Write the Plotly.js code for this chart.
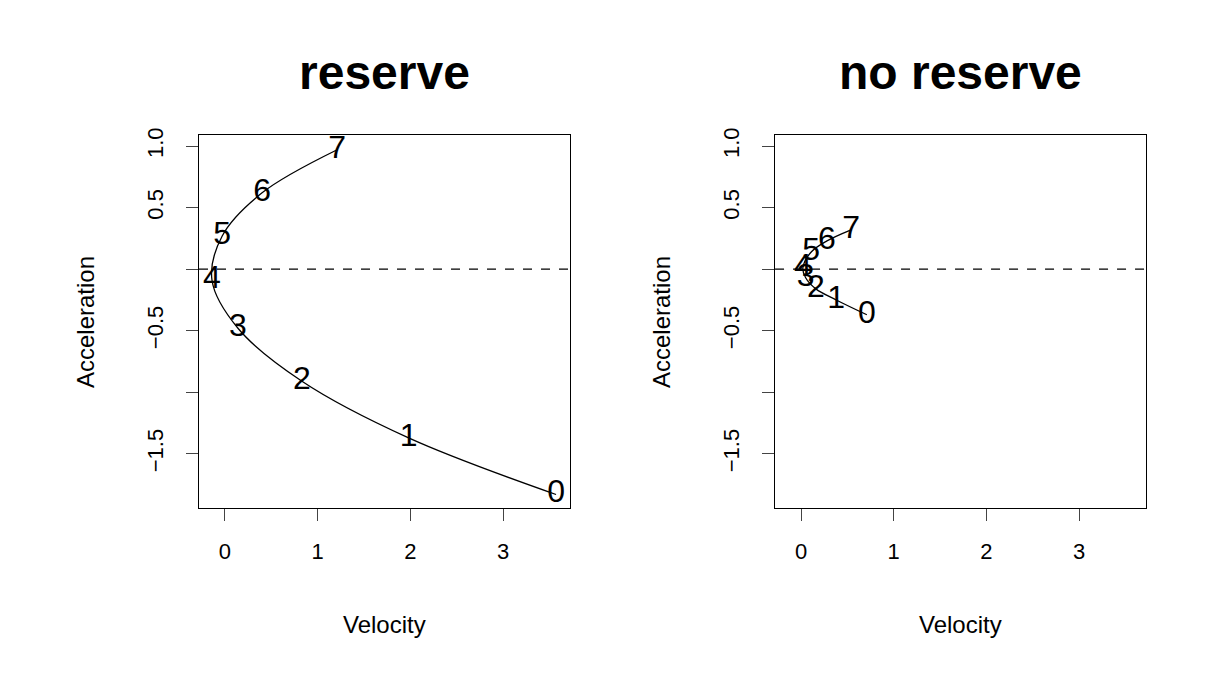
<!DOCTYPE html>
<html><head><script src="https://cdn.plot.ly/plotly-3.0.1.min.js"></script>
<style>body{margin:0}</style></head><body>
<div id="c" style="width:1215px;height:687px"></div>
<script>
const labels = ["0","1","2","3","4","5","6","7"];
const resVel = [3.57,1.98,0.83,0.14,-0.14,-0.03,0.40,1.21];
const resAcc = [-1.83,-1.37,-0.91,-0.48,-0.09,0.27,0.62,0.97];
const noVel = [0.71,0.38,0.16,0.05,0.02,0.11,0.28,0.54];
const noAcc = [-0.37,-0.25,-0.16,-0.07,0.01,0.14,0.23,0.32];
const xTicks = [0,1,2,3];
const yTicks = [-1.5,-1,-0.5,0,0.5,1];
const yTickText = ["\u22121.5","","\u22120.5","","0.5","1.0"];
const F = "Liberation Sans, Arial, sans-serif";
function pair(x,y,xa,ya){
  return [
    {x:x,y:y,xaxis:xa,yaxis:ya,mode:"lines",line:{color:"black",width:1.3,shape:"spline"},hoverinfo:"skip"},
    {x:x,y:y,xaxis:xa,yaxis:ya,mode:"text",text:labels,textfont:{family:F,size:32,color:"black"},hoverinfo:"skip"},
    {x:[-0.28,3.72],y:[0,0],xaxis:xa,yaxis:ya,mode:"lines",line:{color:"black",width:1.3,dash:"dash"},hoverinfo:"skip"}
  ];
}
const data = pair(resVel,resAcc,"x","y").concat(pair(noVel,noAcc,"x2","y2"));
function xa(d,anchor){return {domain:d,anchor:anchor,range:[-0.28,3.72],tickvals:xTicks,ticks:"outside",ticklen:12,ticklabelstandoff:12,
  showline:true,mirror:true,linecolor:"black",showgrid:false,zeroline:false,tickfont:{family:F,size:22,color:"black"}};}
function ya(anchor){return {domain:[0.2605,0.8035],anchor:anchor,range:[-1.94,1.09],tickvals:yTicks,ticktext:yTickText,tickangle:-90,
  ticks:"outside",ticklen:12,ticklabelstandoff:14,showline:true,mirror:true,linecolor:"black",showgrid:false,zeroline:false,tickfont:{family:F,size:22,color:"black"}};}
const ann=[];
[[0.3164,"reserve"],[0.7905,"no reserve"]].forEach(([x,t])=>{
  ann.push({text:"<b>"+t+"</b>",x:x,y:72,font:{family:F,size:48,color:"black"}});
  ann.push({text:"Velocity",x:x,y:624,font:{family:F,size:24,color:"black"}});
});
ann.forEach(a=>{a.y=1-a.y/687;});
ann.push({text:"Acceleration",x:85/1215,y:1-322/687,textangle:-90,font:{family:F,size:24,color:"black"}});
ann.push({text:"Acceleration",x:661/1215,y:1-322/687,textangle:-90,font:{family:F,size:24,color:"black"}});
ann.forEach(a=>{a.xref="paper";a.yref="paper";a.showarrow=false;a.xanchor="center";a.yanchor="middle";});
const layout={width:1215,height:687,margin:{l:0,r:0,t:0,b:0},showlegend:false,paper_bgcolor:"white",plot_bgcolor:"white",
  xaxis:xa([0.1638,0.4691],"y"),yaxis:ya("x"),xaxis2:xa([0.6379,0.9432],"y2"),yaxis2:ya("x2"),annotations:ann};
Plotly.newPlot("c",data,layout,{staticPlot:true});
</script></body></html>
